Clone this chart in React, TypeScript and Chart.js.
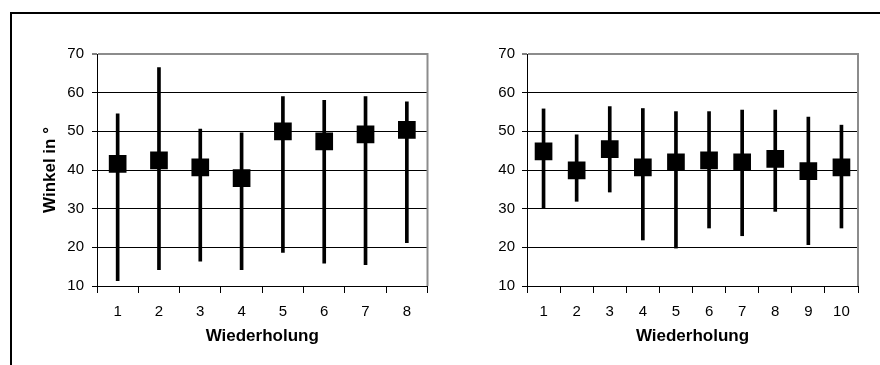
import React, { useEffect, useRef } from 'react';
import { Chart, registerables } from 'chart.js';

Chart.register(...registerables);

// ---- data ----
const categoriesLeft = ['1', '2', '3', '4', '5', '6', '7', '8'];
const meanLeft = [41.6, 42.5, 40.7, 37.9, 50.0, 47.4, 49.2, 50.4];
const highLeft = [54.5, 66.5, 50.6, 49.6, 59.0, 58.0, 59.0, 57.6];
const lowLeft = [11.4, 14.2, 16.4, 14.2, 18.7, 15.9, 15.5, 21.2];

const categoriesRight = ['1', '2', '3', '4', '5', '6', '7', '8', '9', '10'];
const meanRight = [44.8, 39.9, 45.4, 40.7, 42.0, 42.5, 42.0, 42.9, 39.7, 40.7];
const highRight = [55.8, 49.1, 56.4, 55.9, 55.1, 55.1, 55.5, 55.5, 53.7, 51.6];
const lowRight = [30.0, 31.9, 34.3, 21.9, 19.8, 25.0, 23.0, 29.3, 20.7, 25.0];

const yMin = 10;
const yMax = 70;
const yStep = 10;

const xTitleText = 'Wiederholung';
const yTitleText = 'Winkel in °';

const FONT = "'Liberation Sans', Arial, Helvetica, sans-serif";

const plotBorder = {
  id: 'plotBorder',
  beforeDatasetsDraw(chart: any) {
    const { ctx, chartArea } = chart;
    ctx.save();
    ctx.strokeStyle = '#8c8c8c';
    ctx.lineWidth = 2;
    ctx.beginPath();
    ctx.moveTo(chartArea.right, chartArea.top - 1);
    ctx.lineTo(chartArea.right, chartArea.bottom);
    ctx.stroke();
    ctx.restore();
  },
};

interface PanelSpec {
  cats: string[];
  means: number[];
  lows: number[];
  highs: number[];
  showYTitle: boolean;
  yWidth: number;
  yPad: number;
  padRight: number;
}

function buildConfig(p: PanelSpec): any {
  return {
    type: 'bar',
    data: {
      labels: p.cats,
      datasets: [
        {
          type: 'line',
          data: p.means,
          showLine: false,
          pointStyle: 'rect',
          pointRadius: 12.5,
          pointHoverRadius: 12.5,
          pointBackgroundColor: '#000',
          pointBorderColor: '#000',
          pointBorderWidth: 0,
          order: 0,
        },
        {
          type: 'bar',
          data: p.lows.map((l, i) => [l, p.highs[i]]),
          backgroundColor: '#000',
          borderWidth: 0,
          barThickness: 3,
          grouped: false,
          order: 1,
        },
      ],
    },
    options: {
      responsive: false,
      animation: false,
      events: [],
      layout: { padding: { left: 0, right: p.padRight, top: 54, bottom: 17 } },
      plugins: {
        legend: { display: false },
        tooltip: { enabled: false },
      },
      scales: {
        x: {
          type: 'category',
          offset: true,
          afterFit: (s: any) => {
            s.height = 62;
          },
          grid: {
            display: true,
            offset: true,
            drawOnChartArea: false,
            drawTicks: true,
            tickLength: 7,
            tickColor: '#000',
            tickWidth: 1,
          },
          border: { display: true, color: '#000', width: 1 },
          ticks: {
            color: '#000',
            font: { family: FONT, size: 15 },
            padding: 10,
            maxRotation: 0,
            autoSkip: false,
          },
          title: {
            display: true,
            text: xTitleText,
            color: '#000',
            font: { family: FONT, size: 17, weight: 'bold' },
            padding: { top: 0, bottom: 1 },
          },
        },
        y: {
          type: 'linear',
          min: yMin,
          max: yMax,
          afterFit: (s: any) => {
            s.width = p.yWidth;
          },
          grid: {
            display: true,
            drawOnChartArea: true,
            color: (c: any) => (c.tick && c.tick.value === yMax ? '#8c8c8c' : '#000'),
            lineWidth: (c: any) => (c.tick && c.tick.value === yMax ? 2 : 1),
            tickLength: 5,
            tickColor: '#000',
            tickWidth: 1,
          },
          border: { display: true, color: '#000', width: 1 },
          ticks: {
            stepSize: yStep,
            color: '#000',
            font: { family: FONT, size: 15 },
            padding: p.yPad,
          },
          title: {
            display: p.showYTitle,
            text: yTitleText,
            color: '#000',
            font: { family: FONT, size: 17, weight: 'bold' },
            padding: { top: 40, bottom: 0 },
          },
        },
      },
    },
    plugins: [plotBorder],
  };
}

function Panel({ left, spec }: { left: number; spec: PanelSpec }) {
  const ref = useRef<HTMLCanvasElement>(null);
  useEffect(() => {
    if (!ref.current) return;
    const chart = new Chart(ref.current, buildConfig(spec));
    return () => chart.destroy();
  }, []);
  return (
    <canvas
      ref={ref}
      width={440}
      height={365}
      style={{ position: 'absolute', left, top: 0, width: 440, height: 365, display: 'block' }}
    />
  );
}

export default function App() {
  return (
    <div
      style={{
        position: 'absolute',
        left: 0,
        top: 0,
        width: 880,
        height: 365,
        background: '#fff',
        overflow: 'hidden',
      }}
    >
      <div
        style={{
          position: 'absolute',
          left: 10,
          top: 12,
          width: 880,
          height: 360,
          borderTop: '2px solid #000',
          borderLeft: '2px solid #000',
          boxSizing: 'border-box',
        }}
      />
      <Panel
        left={0}
        spec={{
          cats: categoriesLeft,
          means: meanLeft,
          lows: lowLeft,
          highs: highLeft,
          showYTitle: true,
          yWidth: 97,
          yPad: 8,
          padRight: 1,
        }}
      />
      <Panel
        left={440}
        spec={{
          cats: categoriesRight,
          means: meanRight,
          lows: lowRight,
          highs: highRight,
          showYTitle: false,
          yWidth: 87,
          yPad: 7,
          padRight: 22,
        }}
      />
    </div>
  );
}
